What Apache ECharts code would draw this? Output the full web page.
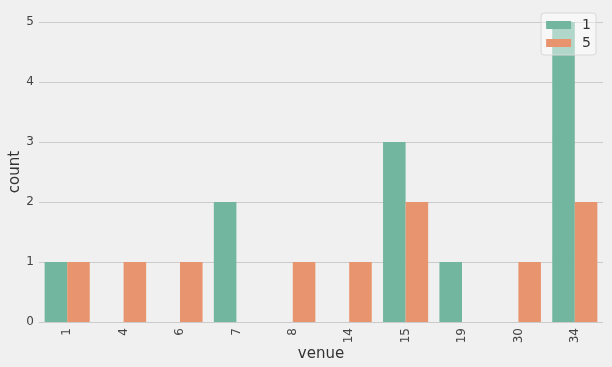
<!DOCTYPE html>
<html><head><meta charset="utf-8">
<script src="https://cdn.jsdelivr.net/npm/echarts@6/dist/echarts.min.js"></script>
<style>html,body{margin:0;padding:0;background:#f0f0f0;}#c{width:612px;height:367px;}</style>
</head><body><div id="c"></div>
<script>
const categories = ['1','4','6','7','8','14','15','19','30','34'];
const series1 = [1,0,0,2,0,0,3,1,0,5];
const series5 = [1,1,1,0,1,1,2,0,1,2];
const seriesNames = ['1','5'];
const yTicks = [0,1,2,3,4,5];

const chart = echarts.init(document.getElementById('c'), null, {renderer:'canvas'});
const font = 'DejaVu Sans';
chart.setOption({
  backgroundColor: '#f0f0f0',
  animation: false,
  textStyle: {fontFamily: font},
  grid: {left: 39, right: 9, top: 22, bottom: 45, containLabel: false, outerBoundsMode: 'none'},
  legend: {
    data: seriesNames,
    right: 16, top: 13,
    orient: 'vertical',
    itemWidth: 25, itemHeight: 8, itemGap: 4,
    padding: [5, 5, 5, 5],
    backgroundColor: 'rgba(255,255,255,0.45)',
    borderColor: '#d8d8d8', borderWidth: 1, borderRadius: 3,
    textStyle: {fontFamily: font, fontSize: 14, color: '#333', padding: [0,0,0,6]},
    icon: 'rect'
  },
  xAxis: {
    type: 'category', data: categories,
    name: 'venue', nameLocation: 'middle', nameGap: 25, nameMoveOverlap: false,
    nameTextStyle: {fontFamily: font, fontSize: 15, color: '#333'},
    axisLine: {show: false}, axisTick: {show: false},
    axisLabel: {rotate: 90, fontSize: 12, color: '#444', margin: 6, fontFamily: font},
    splitLine: {show: false}
  },
  yAxis: {
    type: 'value', min: 0, max: 5, interval: 1,
    name: 'count', nameLocation: 'middle', nameGap: 16, nameMoveOverlap: false,
    nameTextStyle: {fontFamily: font, fontSize: 15, color: '#333'},
    axisLine: {show: false}, axisTick: {show: false},
    axisLabel: {fontSize: 12, color: '#444', margin: 5, fontFamily: font,
      formatter: v => yTicks.includes(v) ? String(v) : ''},
    splitLine: {lineStyle: {color: '#cbcbcb', width: 1}}
  },
  series: [
    {name: seriesNames[0], type: 'bar', data: series1, barGap: '0%', barCategoryGap: '20%',
     itemStyle: {color: '#72b6a0'}},
    {name: seriesNames[1], type: 'bar', data: series5, barGap: '0%', barCategoryGap: '20%',
     itemStyle: {color: '#e8956f'}}
  ]
});
</script></body></html>
